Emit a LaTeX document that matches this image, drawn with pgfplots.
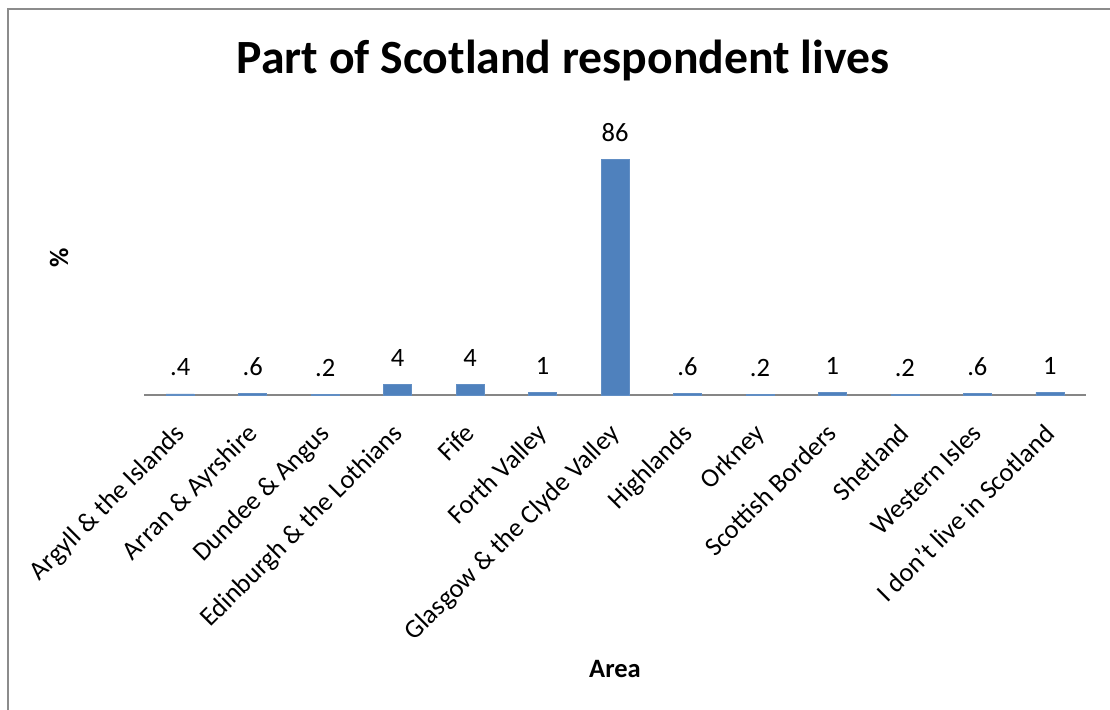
\documentclass[border=0pt]{standalone}
\usepackage{pgfplots}
\pgfplotsset{compat=1.18}
\usepackage{pgfplotstable}
\usepackage{fontspec}
\setmainfont{Carlito}
\definecolor{barblue}{HTML}{4F81BD}
\definecolor{axgray}{HTML}{868686}
\definecolor{framegray}{HTML}{8C8C8C}
\pgfplotstableread{
x y lab
0 0.4 .4
1 0.6 .6
2 0.2 .2
3 4 4
4 4 4
5 1 1
6 86 86
7 0.6 .6
8 0.2 .2
9 1 1
10 0.2 .2
11 0.6 .6
12 1 1
}\areadata
\begin{document}
\begin{tikzpicture}
\useasboundingbox (0,0) rectangle (1110pt,709pt);
\draw[framegray, line width=1.5pt] (8pt,700pt) rectangle (1140pt,-30pt);
\begin{axis}[
  at={(144pt,314pt)}, anchor=south west,
  scale only axis,
  width=942pt, height=274pt,
  xmin=-0.5, xmax=12.5,
  ymin=0, ymax=100,
  axis x line*=bottom,
  axis y line=none,
  x axis line style={axgray, line width=1.2pt, -},
  xtick=data,
  xtick style={draw=none},
  ytick=\empty,
  xticklabels={Argyll \& the Islands, Arran \& Ayrshire, Dundee \& Angus, Edinburgh \& the Lothians, Fife, Forth Valley, Glasgow \& the Clyde Valley, Highlands, Orkney, Scottish Borders, Shetland, Western Isles, I don't live in Scotland},
  xticklabel style={rotate=45, anchor=north east, font=\fontsize{26.5}{30}\selectfont, inner sep=0pt, yshift=-11pt, xshift=-21pt},
  ybar, bar width=28pt,
  title={\textbf{Part of Scotland respondent lives}},
  title style={at={(0.5,1)}, anchor=base, yshift=41pt, xshift=-52pt, font=\fontsize{47.7}{54}\selectfont},
  nodes near coords,
  point meta=explicit symbolic,
  nodes near coords style={font=\fontsize{26.5}{30}\selectfont, anchor=base, inner sep=0pt, yshift=18pt},
  clip=false,
]
\addplot[fill=barblue, draw=barblue!90!white] table[x=x, y=y, meta=lab] {\areadata};
\node[rotate=90, anchor=center, yshift=85pt, font=\bfseries\fontsize{26.5}{30}\selectfont] at (rel axis cs:0,0.5) {\%};
\node[anchor=base, yshift=-282pt, font=\bfseries\fontsize{26.5}{30}\selectfont] at (rel axis cs:0.5,0) {Area};
\end{axis}
\end{tikzpicture}
\end{document}
